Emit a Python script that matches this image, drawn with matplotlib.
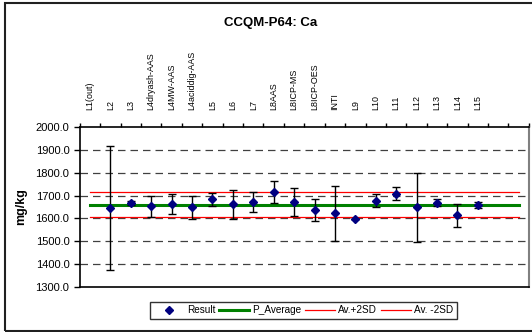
import numpy as np
import matplotlib.pyplot as plt
from matplotlib.patches import Rectangle

plt.rcParams['font.family'] = ['Liberation Sans', 'DejaVu Sans']

# labs along the top, two empty slots at the end
labels = ["L1(out)", "L2", "L3", "L4dryash-AAS", "L4MW-AAS", "L4aciddig-AAS",
          "L5", "L6", "L7", "L8AAS", "L8ICP-MS", "L8ICP-OES", "INTI",
          "L9", "L10", "L11", "L12", "L13", "L14", "L15", "", ""]

# results (mg/kg) and error bar half widths, L1 has no point
result = [np.nan, 1645, 1668, 1653, 1665, 1649, 1684, 1661, 1673, 1716,
          1673, 1638, 1623, 1599, 1678, 1709, 1649, 1668, 1614, 1658]
err = [0, 272, 8, 46, 44, 50, 29, 63, 43, 47,
       62, 48, 120, 0, 28, 27, 150, 15, 50, 14]

p_average = 1660
sd2 = 55

x = np.arange(len(labels))
xr = np.arange(len(result))

fig = plt.figure(figsize=(5.32, 3.32), dpi=100)
ax = fig.add_axes([0.150, 0.1355, 0.844, 0.482])

# dashed grid
for g in range(1400, 2000, 100):
    ax.axhline(g, color='#404040', lw=0.9, ls=(0, (6, 4)), zorder=1)

ax.plot(x, [p_average] * len(x), color='#008000', lw=2.2, label='P_Average', zorder=2)
ax.plot(x, [p_average + sd2] * len(x), color='red', lw=0.9, label='Av.+2SD', zorder=2)
ax.plot(x, [p_average - sd2] * len(x), color='red', lw=0.9, label='Av. -2SD', zorder=2)

ax.errorbar(xr, result, yerr=err, fmt='none', ecolor='black', elinewidth=1,
            capsize=3, capthick=1, zorder=3)
ax.plot(xr, result, 'D', color='#000080', ms=4.5, ls='none', label='Result', zorder=4)

ax.set_xlim(-0.5, len(labels) - 0.5)
ax.set_ylim(1300, 2000)
ax.set_yticks(np.arange(1300, 2001, 100))
ax.set_yticklabels(["%.1f" % v for v in np.arange(1300, 2001, 100)], fontsize=8)

ax.xaxis.tick_top()
ax.set_xticks(x)
ax.set_xticklabels(labels, rotation=90, fontsize=6.4,
                   family=['Liberation Sans Narrow', 'Liberation Sans'])
ax.set_xticks(np.arange(-0.5, len(labels)), minor=True)
ax.tick_params(axis='x', which='major', length=0, pad=12)
ax.tick_params(axis='x', which='minor', length=3, top=True, bottom=False, width=1)
ax.tick_params(axis='y', length=4, width=1)

for s in ['left', 'top', 'bottom']:
    ax.spines[s].set_linewidth(1.2)
ax.spines['right'].set_color('#808080')
ax.spines['right'].set_linewidth(1.5)

ax.set_ylabel('mg/kg', fontsize=9, fontweight='bold', labelpad=6)
fig.text(0.509, 0.932, 'CCQM-P64: Ca', ha='center', va='center',
         fontsize=9.5, fontweight='bold')

h, l = ax.get_legend_handles_labels()
order = [3, 0, 1, 2]
leg = fig.legend([h[i] for i in order], [l[i] for i in order], loc='center',
                 bbox_to_anchor=(0.5705, 0.066), ncol=4, fontsize=7.2, frameon=True,
                 fancybox=False, edgecolor='black', handlelength=3.0,
                 columnspacing=0.4, handletextpad=0.3, borderpad=0.35,
                 markerscale=0.8)
leg.get_frame().set_linewidth(1.0)

# chart area border, right edge falls off the picture
fig.patches.append(Rectangle((5 / 532, 1 / 332), 1.2, 1 - 4 / 332,
                             transform=fig.transFigure, fill=False,
                             edgecolor='#202020', lw=1.5))

fig.savefig('out.png', dpi=100)
